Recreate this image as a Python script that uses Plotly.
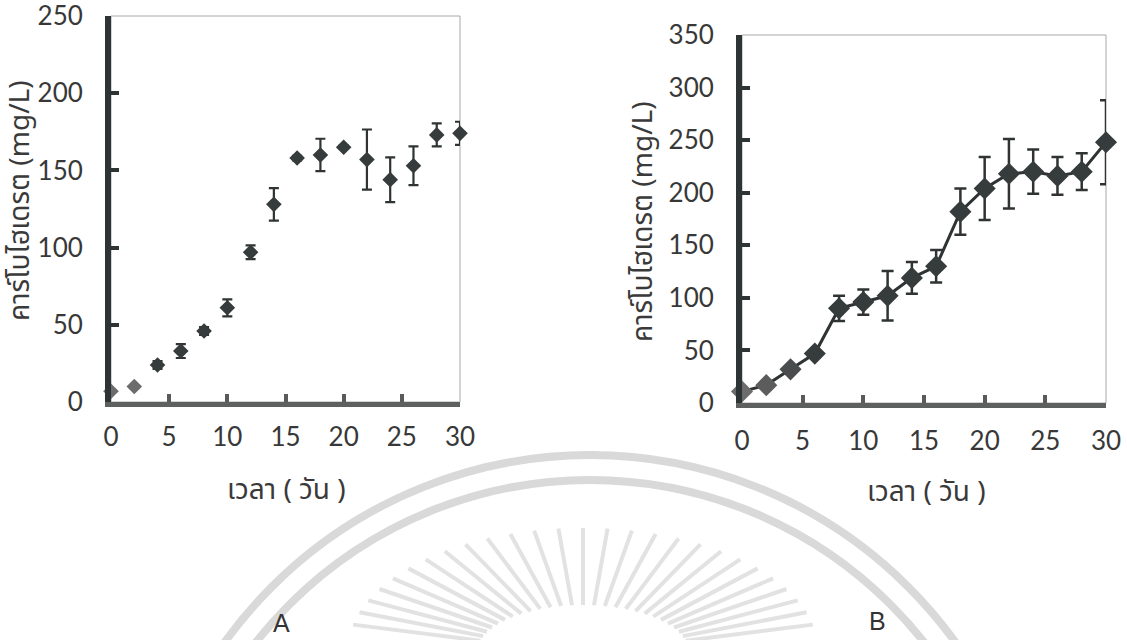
import numpy as np
import plotly.graph_objects as go

# ---------------- data ----------------
days = [0, 2, 4, 6, 8, 10, 12, 14, 16, 18, 20, 22, 24, 26, 28, 30]
carb_A = [7, 10, 24, 33, 46, 61, 97, 128, 158, 160, 165, 157, 144, 153, 173, 174]
err_A = [1, 1, 2.5, 4.5, 2.5, 5.5, 4.5, 10.5, 1.5, 10.5, 1, 19.5, 14.5, 12.5, 7.5, 7.5]
carb_B = [11, 17, 32, 47, 90, 96, 102, 119, 130, 182, 204, 218, 220, 216, 220, 248]
err_B = [2, 2, 3, 3, 12, 12, 23.5, 15, 15.5, 22, 30, 33, 21, 18, 17.5, 40]
x_ticks = [0, 5, 10, 15, 20, 25, 30]
y_ticks_A = [0, 50, 100, 150, 200, 250]
y_ticks_B = [0, 50, 100, 150, 200, 250, 300, 350]
y_title = "คาร์โบไฮเดรต (mg/L)"
x_title = "เวลา ( วัน )"
panel_labels = ["A", "B"]

# ---------------- style ----------------
W, H = 1127, 640
DARK = "#363b3b"
colors_A = ["#6c6c6c", "#6c6c6c"] + [DARK] * 14
colors_B = ["#6c6c6c", "#5c5c5c", "#4a4d4d"] + [DARK] * 13
TICKFONT = dict(family="Lato, 'Open Sans', sans-serif", size=26, color="#383838")
TITLEFONT = dict(family="'Noto Sans Thai', 'Noto Sans', Lato, sans-serif", size=28, color="#3a3a3a")


def px(x):
    return x / W


def py(y):
    return 1 - y / H


fig = go.Figure()

fig.add_trace(go.Scatter(
    x=days, y=carb_A, mode="markers", xaxis="x", yaxis="y", cliponaxis=False,
    marker=dict(symbol="diamond", size=12, color=colors_A, line=dict(width=0)),
    error_y=dict(type="data", array=err_A, visible=True, color="#2f3333", thickness=2.2, width=5),
    showlegend=False,
))
fig.add_trace(go.Scatter(
    x=days, y=carb_B, mode="lines+markers", xaxis="x2", yaxis="y2", cliponaxis=False,
    line=dict(color="#2f3333", width=3),
    marker=dict(symbol="diamond", size=17, color=colors_B, line=dict(width=0)),
    error_y=dict(type="data", array=err_B, visible=True, color="#2f3333", thickness=2.5, width=6),
    showlegend=False,
))


def xaxis_style(domain, anchor, standoff):
    return dict(
        domain=domain, anchor=anchor, range=[0, 30], tickvals=x_ticks, ticks="inside", ticklen=8,
        tickwidth=4, tickcolor="#5a5a5a", showline=True, linewidth=5, linecolor="#5e6060",
        showgrid=False, zeroline=False, tickfont=TICKFONT, ticklabelstandoff=standoff,
        ticklabeloverflow="allow", fixedrange=True, automargin=False,
    )


def yaxis_style(domain, anchor, rng, ticks, standoff):
    return dict(
        domain=domain, anchor=anchor, range=rng, tickvals=ticks, ticks="inside", ticklen=8,
        tickwidth=4, tickcolor="#2e3333", showline=True, linewidth=6, linecolor="#2e3333",
        showgrid=False, zeroline=False, tickfont=TICKFONT, ticklabelstandoff=standoff,
        ticklabeloverflow="allow", fixedrange=True, automargin=False,
    )


shapes = []
# thin frame around each plot area
for xr, yr in (("x domain", "y domain"), ("x2 domain", "y2 domain")):
    shapes.append(dict(type="rect", xref=xr, yref=yr, x0=0, x1=1, y0=0, y1=1,
                       line=dict(color="#a8a8a8", width=1), layer="below"))

# faint watermark seal (decoration)
cx, cy = 590, 905
for R in (450, 425):
    shapes.append(dict(type="circle", xref="paper", yref="paper",
                       x0=px(cx - R), x1=px(cx + R), y0=py(cy + R), y1=py(cy - R),
                       line=dict(color="#d9d9d9", width=8), layer="below"))
sx, sy = 583, 650
for ang in np.arange(12, 169, 6):
    a = np.radians(ang)
    x0, y0 = sx + 105 * np.cos(a), sy - 45 * np.sin(a)
    x1, y1 = sx + 235 * np.cos(a), sy - 122 * np.sin(a)
    shapes.append(dict(type="line", xref="paper", yref="paper",
                       x0=px(x0), y0=py(y0), x1=px(x1), y1=py(y1),
                       line=dict(color="#e2e2e2", width=4), layer="below"))

annotations = [
    dict(text=y_title, x=px(20), y=py(201), xref="paper", yref="paper", textangle=-90,
         showarrow=False, font=TITLEFONT, xanchor="center", yanchor="middle"),
    dict(text=y_title, x=px(643), y=py(222), xref="paper", yref="paper", textangle=-90,
         showarrow=False, font=TITLEFONT, xanchor="center", yanchor="middle"),
    dict(text=x_title, x=px(286), y=py(490), xref="paper", yref="paper",
         showarrow=False, font=TITLEFONT, xanchor="center", yanchor="middle"),
    dict(text=x_title, x=px(926), y=py(492), xref="paper", yref="paper",
         showarrow=False, font=TITLEFONT, xanchor="center", yanchor="middle"),
    dict(text=panel_labels[0], x=px(281), y=py(623), xref="paper", yref="paper",
         showarrow=False, font=dict(family="'Liberation Sans', Arial, sans-serif", size=25, color="#333"),
         xanchor="center", yanchor="middle"),
    dict(text=panel_labels[1], x=px(878), y=py(621), xref="paper", yref="paper",
         showarrow=False, font=dict(family="'Liberation Sans', Arial, sans-serif", size=25, color="#333"),
         xanchor="center", yanchor="middle"),
]

fig.update_layout(
    width=W, height=H, margin=dict(l=0, r=0, t=0, b=0, autoexpand=False),
    paper_bgcolor="white", plot_bgcolor="rgba(0,0,0,0)",
    xaxis=xaxis_style([px(111), px(460)], "y", 8),
    yaxis=yaxis_style([py(402), py(16)], "x", [0, 250], y_ticks_A, 17),
    xaxis2=xaxis_style([px(742), px(1106)], "y2", 11),
    yaxis2=yaxis_style([py(403), py(35)], "x2", [0, 350], y_ticks_B, 17),
    shapes=shapes, annotations=annotations, showlegend=False,
)

fig.write_html(
    "out.html",
    config={"displayModeBar": False, "staticPlot": True},
    post_script="document.body.style.margin='0';document.body.style.overflow='hidden';",
)
